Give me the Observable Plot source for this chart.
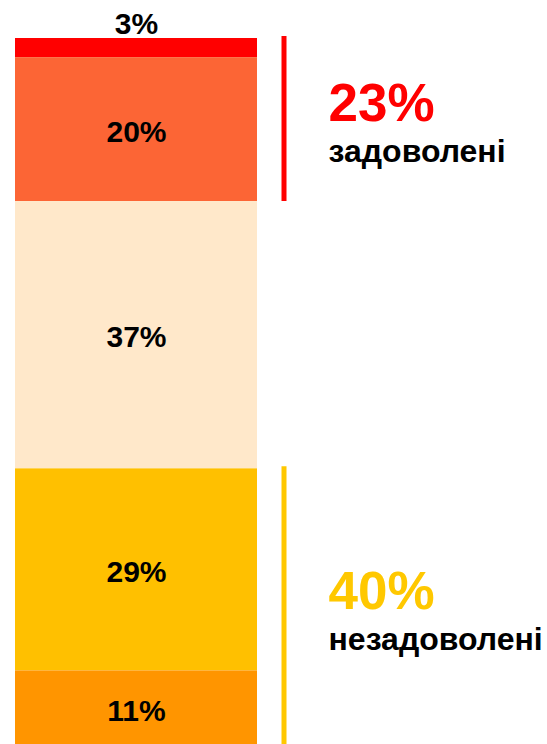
<!DOCTYPE html>
<html>
<head>
<meta charset="utf-8">
<script src="https://cdn.jsdelivr.net/npm/d3@7"></script>
<script src="https://cdn.jsdelivr.net/npm/@observablehq/plot@0.6"></script>
<style>
  html, body { margin: 0; padding: 0; background: #fff; }
  #chart svg { display: block; }
</style>
</head>
<body>
<div id="chart"></div>
<script>
// Segment categories, top to bottom
const categories = ["повністю задоволені", "скоріше задоволені", "важко сказати", "скоріше незадоволені", "зовсім незадоволені"];
// Shares as measured from the bar (sum 100)
const shares = [2.7, 20.3, 37.7, 28.5, 10.8];
// Printed labels
const segmentLabels = ["3%", "20%", "37%", "29%", "11%"];
// Summary groups
const groupNames = ["задоволені", "незадоволені"];
const groupLabels = ["23%", "40%"];
const groupMembers = [[0, 1], [3, 4]];

const segmentColors = ["#FF0000", "#FC6535", "#FFE8CA", "#FFC000", "#FF9500"];
const groupColors = ["#FF0000", "#FFC800"];

let acc = 0;
const segs = categories.map((c, i) => {
  const d = {cat: c, value: shares[i], label: segmentLabels[i], y1: acc, y2: acc + shares[i], col: "bar"};
  acc += shares[i];
  return d;
});
const groups = groupNames.map((g, i) => {
  const m = groupMembers[i];
  const y1 = segs[m[0]].y1, y2 = segs[m[m.length - 1]].y2;
  return {name: g, label: groupLabels[i], y1, y2, mid: (y1 + y2) / 2, col: "bar", color: groupColors[i]};
});

const FONT = "'Liberation Sans', Arial, sans-serif";

const chart = Plot.plot({
  width: 547,
  height: 744,
  marginLeft: 15,
  marginRight: 290,
  marginTop: 0,
  marginBottom: 0,
  style: {fontFamily: FONT, background: "#fff", overflow: "visible"},
  x: {type: "band", domain: ["bar"], padding: 0, axis: null},
  y: {domain: [0, 100], range: [38, 747], axis: null},
  color: {domain: categories, range: segmentColors},
  marks: [
    Plot.rectY(segs, {x: "col", y1: "y1", y2: "y2", fill: "cat"}),
    Plot.text(segs.filter(d => d.value >= 5), {
      x: "col", y: d => (d.y1 + d.y2) / 2, text: "label",
      fontSize: 30, fontWeight: "bold", fill: "#000", dy: 2.5, lineAnchor: "middle"
    }),
    Plot.text(segs.filter(d => d.value < 5), {
      x: "col", y: "y1", text: "label",
      fontSize: 30, fontWeight: "bold", fill: "#000", dy: -14.6, lineAnchor: "middle"
    }),
    Plot.ruleX(groups, {x: "col", y1: "y1", y2: "y2", stroke: "color", strokeWidth: 5, dx: 147.5, insetTop: -2}),
    Plot.text(groups, {
      x: "col", y: "mid", text: "label", fill: "color",
      fontSize: 53, fontWeight: "bold", textAnchor: "start", dx: 192, dy: -16, lineAnchor: "middle"
    }),
    Plot.text(groups, {
      x: "col", y: "mid", text: "name", fill: "#000",
      fontSize: 32, fontWeight: "bold", textAnchor: "start", dx: 192, dy: 32, lineAnchor: "middle"
    })
  ]
});
document.getElementById("chart").appendChild(chart);
</script>
</body>
</html>
